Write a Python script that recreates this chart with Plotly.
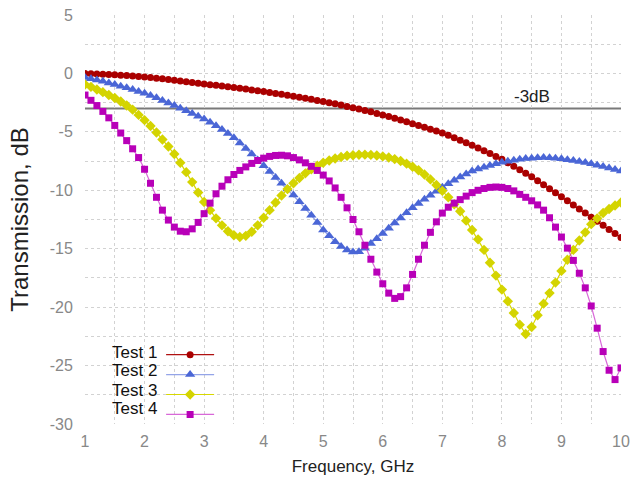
import plotly.graph_objects as go

freq = [round(1.0 + 0.1 * i, 1) for i in range(91)]

test1 = [0.00, -0.02, -0.04, -0.07, -0.09, -0.12, -0.15, -0.18, -0.22, -0.26,
         -0.30, -0.35, -0.41, -0.46, -0.52, -0.58, -0.64, -0.71, -0.77, -0.84,
         -0.90, -0.96, -1.02, -1.08, -1.14, -1.20, -1.27, -1.34, -1.41, -1.48,
         -1.55, -1.63, -1.71, -1.79, -1.87, -1.95, -2.04, -2.13, -2.22, -2.31,
         -2.40, -2.50, -2.60, -2.71, -2.82, -2.93, -3.05, -3.17, -3.29, -3.42,
         -3.55, -3.69, -3.84, -3.99, -4.14, -4.30, -4.45, -4.61, -4.77, -4.93,
         -5.10, -5.30, -5.50, -5.72, -5.93, -6.15, -6.38, -6.62, -6.86, -7.10,
         -7.35, -7.64, -7.94, -8.24, -8.54, -8.85, -9.19, -9.53, -9.87, -10.21,
         -10.55, -10.90, -11.25, -11.60, -11.95, -12.30, -12.65, -13.00, -13.35, -13.70,
         -14.05]

test2 = [-0.35, -0.45, -0.56, -0.68, -0.81, -0.95, -1.09, -1.23, -1.38, -1.54,
         -1.70, -1.89, -2.09, -2.31, -2.53, -2.75, -2.97, -3.19, -3.42, -3.66,
         -3.90, -4.18, -4.48, -4.80, -5.14, -5.50, -5.95, -6.43, -6.90, -7.40,
         -7.90, -8.40, -8.90, -9.40, -9.90, -10.40, -10.98, -11.56, -12.13, -12.75,
         -13.40, -13.90, -14.40, -14.80, -15.10, -15.28, -15.25, -14.95, -14.55, -14.15,
         -13.70, -13.25, -12.80, -12.37, -11.93, -11.50, -11.13, -10.77, -10.42, -10.08,
         -9.75, -9.45, -9.15, -8.87, -8.60, -8.36, -8.18, -8.02, -7.87, -7.73,
         -7.60, -7.51, -7.43, -7.35, -7.29, -7.25, -7.22, -7.20, -7.22, -7.26,
         -7.31, -7.38, -7.46, -7.54, -7.63, -7.73, -7.85, -7.97, -8.09, -8.22,
         -8.35]

test3 = [-0.95, -1.15, -1.37, -1.60, -1.85, -2.10, -2.40, -2.75, -3.10, -3.55,
         -4.00, -4.50, -5.05, -5.65, -6.25, -6.90, -7.65, -8.45, -9.30, -10.20,
         -11.00, -11.70, -12.40, -13.00, -13.50, -13.85, -14.00, -13.90, -13.55, -13.00,
         -12.35, -11.70, -11.05, -10.45, -9.90, -9.40, -8.95, -8.55, -8.20, -7.90,
         -7.65, -7.45, -7.28, -7.15, -7.05, -7.00, -6.96, -6.95, -6.97, -7.02,
         -7.10, -7.20, -7.33, -7.50, -7.72, -7.98, -8.28, -8.65, -9.07, -9.55,
         -10.05, -10.60, -11.20, -11.80, -12.60, -13.40, -14.20, -15.10, -16.20, -17.30,
         -18.50, -19.50, -20.50, -21.50, -22.30, -21.70, -20.70, -19.70, -18.80, -17.90,
         -16.90, -15.95, -15.10, -14.30, -13.60, -12.90, -12.40, -11.95, -11.60, -11.30,
         -11.05]

test4 = [-1.85, -2.30, -2.75, -3.25, -3.80, -4.45, -5.10, -5.75, -6.45, -7.20,
         -8.20, -9.40, -10.60, -11.70, -12.55, -13.15, -13.50, -13.55, -13.30, -12.75,
         -12.00, -11.10, -10.30, -9.65, -9.10, -8.65, -8.30, -8.00, -7.70, -7.45,
         -7.25, -7.10, -7.02, -7.00, -7.05, -7.20, -7.40, -7.65, -7.95, -8.30,
         -8.70, -9.20, -9.80, -10.60, -11.50, -12.50, -13.55, -14.70, -15.90, -17.00,
         -18.00, -18.80, -19.25, -19.10, -18.35, -17.20, -15.90, -14.70, -13.60, -12.70,
         -11.95, -11.45, -11.10, -10.80, -10.50, -10.20, -10.00, -9.85, -9.75, -9.72,
         -9.75, -9.85, -10.05, -10.35, -10.60, -10.90, -11.25, -11.70, -12.35, -13.15,
         -14.00, -14.95, -16.00, -17.10, -18.35, -19.90, -21.80, -23.80, -25.40, -26.20,
         -25.20]

labels = ["Test 1", "Test 2", "Test 3", "Test 4"]
series = [test1, test2, test3, test4]
threshold = -3
threshold_label = "-3dB"

y_tick_vals = [5, 0, -5, -10, -15, -20, -25, -30]
y_tick_text = ["5", "0", "-5", "-10", "-15", "-20", "-25", "-30"]

marker_colors = ["#aa0000", "#4a66d6", "#d4d400", "#b800b8"]
line_colors = ["#b01010", "rgba(90,115,220,0.65)", "#d8d800", "rgba(200,40,200,0.7)"]
symbols = ["circle", "triangle-up", "diamond", "square"]
sizes = [7, 9, 8, 7]

fig = go.Figure()
for lab, ys, mc, lc, sym, sz in zip(labels, series, marker_colors, line_colors, symbols, sizes):
    fig.add_trace(go.Scatter(
        x=freq, y=ys, mode="lines+markers", name="",
        line=dict(color=lc, width=1.2),
        marker=dict(symbol=sym, size=sz, color=mc, line=dict(width=0)),
        hovertemplate=lab + ": %{x} GHz, %{y} dB<extra></extra>",
    ))

fig.add_hline(y=threshold, line=dict(color="#7a7a7a", width=2), layer="below")
fig.add_annotation(x=8.5, y=threshold, text=threshold_label, showarrow=False,
                   yanchor="bottom", yshift=0, font=dict(size=17, color="#222"))

leg_y = [0.176, 0.1296, 0.083, 0.0367]
for lab, yy in zip(labels, leg_y):
    fig.add_annotation(xref="paper", yref="paper", x=0.138, y=yy, text=lab,
                       showarrow=False, xanchor="right", yanchor="middle",
                       font=dict(size=17, color="#111"))

grid = dict(showgrid=True, gridcolor="#d2d2d2", griddash="dot", gridwidth=1)
fig.update_layout(
    width=631, height=481,
    margin=dict(l=85, r=10, t=15, b=57),
    plot_bgcolor="white", paper_bgcolor="white",
    font=dict(family="Liberation Sans, Arial, sans-serif", size=16, color="#888"),
    showlegend=True,
    legend=dict(x=0.142, y=0.206, xanchor="left", yanchor="top",
                bgcolor="rgba(0,0,0,0)", font=dict(size=13), itemwidth=48,
                tracegroupgap=0),
    xaxis=dict(range=[1, 10], dtick=1, tick0=1, zeroline=False, showline=False,
               ticks="outside", ticklen=3, tickcolor="rgba(0,0,0,0)", automargin=False,
               ticklabeloverflow="allow",
               title=dict(text="Frequency, GHz", font=dict(color="#222", size=17), standoff=10),
               minor=dict(dtick=0.5, **grid), **grid),
    yaxis=dict(range=[-30, 5], tickmode="array", tickvals=y_tick_vals, ticktext=y_tick_text,
               zeroline=False, showline=False,
               ticks="outside", ticklen=8, tickcolor="rgba(0,0,0,0)", automargin=False,
               ticklabeloverflow="allow",
               title=dict(text="Transmission, dB", font=dict(color="#222", size=24), standoff=14),
               minor=dict(dtick=2.5, **grid), **grid),
)
fig.write_html(
    "out.html",
    config={"displayModeBar": False},
    post_script="document.body.style.margin='0';document.body.style.overflow='hidden';",
)
